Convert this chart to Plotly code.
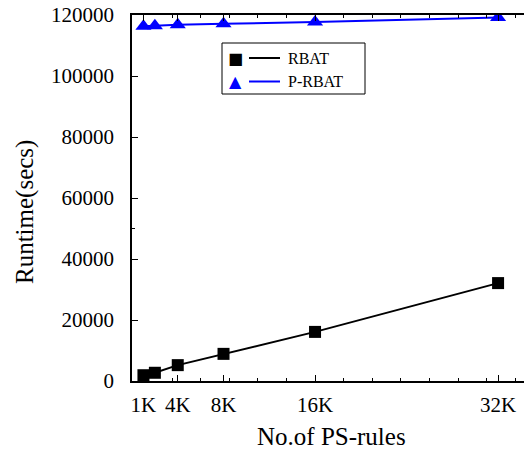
import plotly.graph_objects as go

# ---- data ----
rules_k = [1, 2, 4, 8, 16, 32]
rbat = [1900, 2700, 5200, 8900, 16100, 32100]
p_rbat = [116300, 116500, 116800, 117100, 117700, 119200]
x_tick_vals = [1, 4, 8, 16, 32]
x_tick_text = ["1K", "4K", "8K", "16K", "32K"]
y_tick_vals = [0, 20000, 40000, 60000, 80000, 100000, 120000]
series_names = ["RBAT", "P-RBAT"]
x_title = "No.of PS-rules"
y_title = "Runtime(secs)"

W, H = 524, 455
L, R, T, B = 132, 0, 15, 74
FONT = "Liberation Serif, Times New Roman, serif"

fig = go.Figure()
fig.add_trace(go.Scatter(x=rules_k, y=rbat, mode="lines+markers", name=series_names[0],
                         line=dict(color="black", width=2),
                         marker=dict(symbol="square", size=12, color="black"),
                         showlegend=False))
fig.add_trace(go.Scatter(x=rules_k, y=p_rbat, mode="lines+markers", name=series_names[1],
                         line=dict(color="#0000ff", width=2),
                         marker=dict(symbol="triangle-up", size=14, color="#0000ff"),
                         showlegend=False))

pw = W - L - R
ph = H - T - B
def px(x):
    return (x - L) / pw
def py(y):
    return (H - B - y) / ph

shapes = [dict(type="rect", xref="paper", yref="paper",
               x0=px(222), x1=px(365), y0=py(94), y1=py(43),
               line=dict(color="black", width=1), fillcolor="white", layer="above")]
annotations = []
legend_rows = [(series_names[0], "black", "■", 58), (series_names[1], "#0000ff", "▲", 81.5)]
for name, col, sym, yy in legend_rows:
    shapes.append(dict(type="line", xref="paper", yref="paper",
                       x0=px(249), x1=px(280), y0=py(yy), y1=py(yy),
                       line=dict(color=col, width=2), layer="above"))
    annotations.append(dict(xref="paper", yref="paper", x=px(235), y=py(yy), text=sym,
                            showarrow=False, font=dict(color=col, size=16, family="DejaVu Sans"),
                            xanchor="center", yanchor="middle"))
    annotations.append(dict(xref="paper", yref="paper", x=px(286), y=py(yy), text=name,
                            showarrow=False, font=dict(color="black", size=16, family=FONT),
                            xanchor="left", yanchor="middle"))
# axis titles
annotations.append(dict(xref="paper", yref="paper", x=px(331), y=py(436), text=x_title,
                        showarrow=False, font=dict(size=25, family=FONT, color="black"),
                        xanchor="center", yanchor="middle"))
annotations.append(dict(xref="paper", yref="paper", x=px(25), y=py(212), text=y_title,
                        showarrow=False, textangle=-90,
                        font=dict(size=25, family=FONT, color="black"),
                        xanchor="center", yanchor="middle"))

fig.update_layout(
    width=W, height=H,
    margin=dict(l=L, r=R, t=T, b=B),
    paper_bgcolor="white", plot_bgcolor="white",
    font=dict(family=FONT, color="black"),
    shapes=shapes, annotations=annotations,
)
fig.update_xaxes(range=[0, (W - L) / 11.44], showgrid=False, zeroline=False, automargin=False,
                 showline=True, linecolor="black", linewidth=1.5, mirror="allticks",
                 ticks="inside", ticklen=6, tickcolor="black",
                 tickvals=x_tick_vals, ticktext=x_tick_text,
                 tickfont=dict(size=21, family=FONT), ticklabelstandoff=4,
                 minor=dict(ticks="inside", tick0=1, dtick=2.5, ticklen=3, tickcolor="black"))
fig.update_yaxes(range=[0, 120000], showgrid=False, zeroline=False, automargin=False,
                 showline=True, linecolor="black", linewidth=1.5, mirror=False,
                 ticks="inside", ticklen=6, tickcolor="black",
                 tickvals=y_tick_vals, tickformat="d",
                 tickfont=dict(size=21, family=FONT), ticklabelstandoff=12,
                 minor=dict(ticks="inside", tick0=0, dtick=50000, ticklen=3, tickcolor="black"))

fig.write_html("out.html", config={"displayModeBar": False},
               post_script="document.body.style.margin='0';document.body.style.overflow='hidden';")
